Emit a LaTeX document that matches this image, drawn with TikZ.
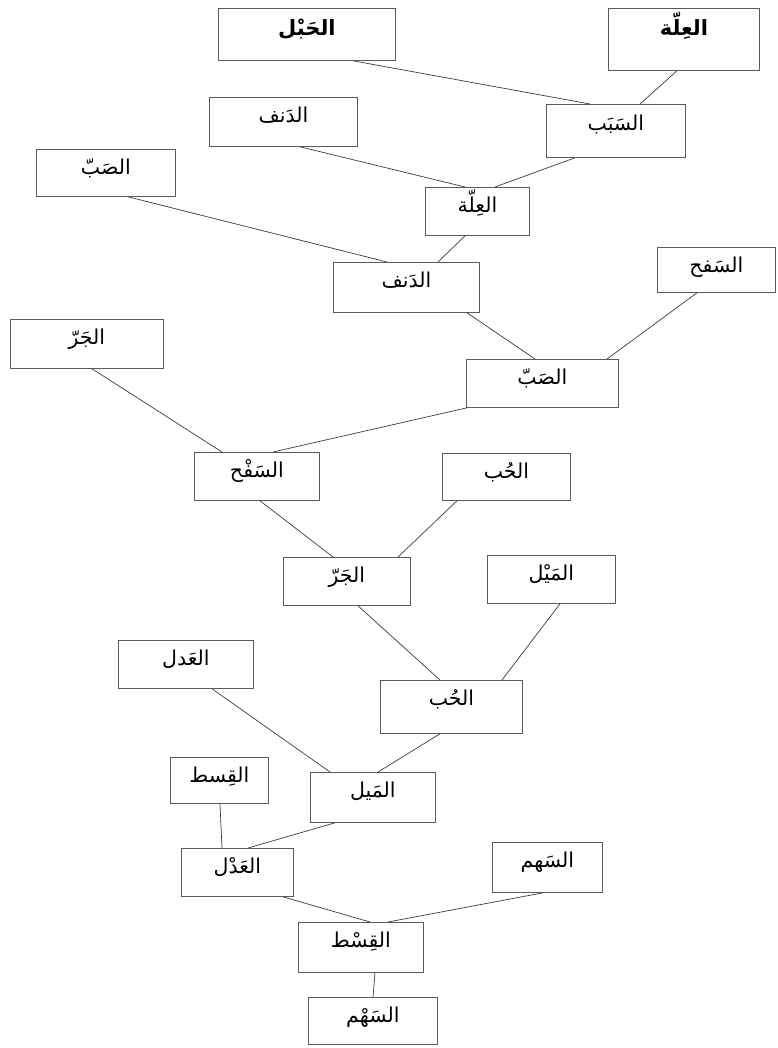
\documentclass[tikz,border=0pt]{standalone}
\usepackage{fontspec}
\newfontfamily\arabicfont[Script=Arabic]{DejaVu Sans}
\TeXXeTstate=1
\definecolor{boxgray}{HTML}{5A5A5A}
\definecolor{linegray}{HTML}{3A3A3A}
\newcommand\artxt[1]{\beginR #1\endR}
\tikzset{
  box/.style={draw=boxgray, line width=0.8pt, inner sep=0pt, text height=25pt,
    anchor=north west, font=\arabicfont\fontsize{20.5}{24}\selectfont},
  boldbox/.style={box, font=\arabicfont\bfseries\fontsize{21}{25}\selectfont},
  link/.style={draw=linegray, line width=0.7pt}
}
\begin{document}
\begin{tikzpicture}[x=1pt,y=1pt]
\useasboundingbox (0,0) rectangle (777,-1048);
% boxes
\node[boldbox, minimum width=177pt, text height=27pt, text depth=25pt] (n1) at (218,-8) {\artxt{الحَبْل}};
\node[boldbox, minimum width=151pt, text height=27pt, text depth=35pt] (n2) at (608,-8) {\artxt{العِلّة}};
\node[box, minimum width=148pt, text depth=24pt] (n3) at (209,-97) {\artxt{الدَنف}};
\node[box, minimum width=139pt, text height=26pt, text depth=27pt] (n4) at (546,-104) {\artxt{السَبَب}};
\node[box, minimum width=139pt, text depth=22pt] (n5) at (36,-149) {\artxt{الصَبّ}};
\node[box, minimum width=104pt, text depth=23pt] (n6) at (425,-187) {\artxt{العِلّة}};
\node[box, minimum width=146pt, text depth=25pt] (n7) at (333,-262) {\artxt{الدَنف}};
\node[box, minimum width=118pt, text depth=20pt] (n8) at (657,-247) {\artxt{السَفح}};
\node[box, minimum width=153pt, text depth=24pt] (n9) at (10,-319) {\artxt{الجَرّ}};
\node[box, minimum width=152pt, text depth=23pt] (n10) at (466,-359) {\artxt{الصَبّ}};
\node[box, minimum width=125pt, text depth=23pt] (n11) at (194,-452) {\artxt{السَفْح}};
\node[box, minimum width=128pt, text depth=22pt] (n12) at (442,-453) {\artxt{الحُب}};
\node[box, minimum width=127pt, text depth=23pt] (n13) at (283,-557) {\artxt{الجَرّ}};
\node[box, minimum width=128pt, text depth=23pt] (n14) at (487,-555) {\artxt{المَيْل}};
\node[box, minimum width=135pt, text depth=23pt] (n15) at (118,-640) {\artxt{العَدل}};
\node[box, minimum width=142pt, text depth=28pt] (n16) at (380,-680) {\artxt{الحُب}};
\node[box, minimum width=98pt, text depth=21pt] (n17) at (170,-757) {\artxt{القِسط}};
\node[box, minimum width=125pt, text depth=25pt] (n18) at (310,-772) {\artxt{المَيل}};
\node[box, minimum width=112pt, text depth=23pt] (n19) at (181,-848) {\artxt{العَدْل}};
\node[box, minimum width=110pt, text depth=25pt] (n20) at (492,-842) {\artxt{السَهم}};
\node[box, minimum width=125pt, text depth=25pt] (n21) at (298,-922) {\artxt{القِسْط}};
\node[box, minimum width=129pt, text depth=22pt] (n22) at (308,-997) {\artxt{السَهْم}};
% connectors
\draw[link] ([xshift=135pt]n1.south west) -- ([xshift=44pt]n4.north west);
\draw[link] ([xshift=69pt]n2.south west) -- ([xshift=94pt]n4.north west);
\draw[link] ([xshift=91pt]n3.south west) -- ([xshift=40pt]n6.north west);
\draw[link] ([xshift=29pt]n4.south west) -- ([xshift=70pt]n6.north west);
\draw[link] ([xshift=92pt]n5.south west) -- ([xshift=54pt]n7.north west);
\draw[link] ([xshift=40pt]n6.south west) -- ([xshift=105pt]n7.north west);
\draw[link] ([xshift=134pt]n7.south west) -- ([xshift=69pt]n10.north west);
\draw[link] ([xshift=40pt]n8.south west) -- ([xshift=141pt]n10.north west);
\draw[link] ([xshift=82pt]n9.south west) -- ([xshift=28pt]n11.north west);
\draw[link] ([xshift=1pt]n10.south west) -- ([xshift=79pt]n11.north west);
\draw[link] ([xshift=66pt]n11.south west) -- ([xshift=50pt]n13.north west);
\draw[link] ([xshift=15pt]n12.south west) -- ([xshift=115pt]n13.north west);
\draw[link] ([xshift=75pt]n13.south west) -- ([xshift=60pt]n16.north west);
\draw[link] ([xshift=73pt]n14.south west) -- ([xshift=122pt]n16.north west);
\draw[link] ([xshift=94pt]n15.south west) -- ([xshift=20pt]n18.north west);
\draw[link] ([xshift=60pt]n16.south west) -- ([xshift=68pt]n18.north west);
\draw[link] ([xshift=50pt]n17.south west) -- ([xshift=41pt]n19.north west);
\draw[link] ([xshift=25pt]n18.south west) -- ([xshift=67pt]n19.north west);
\draw[link] ([xshift=102pt]n19.south west) -- ([xshift=72pt]n21.north west);
\draw[link] ([xshift=51pt]n20.south west) -- ([xshift=90pt]n21.north west);
\draw[link] ([xshift=77pt]n21.south west) -- ([xshift=65pt]n22.north west);
\end{tikzpicture}
\end{document}
